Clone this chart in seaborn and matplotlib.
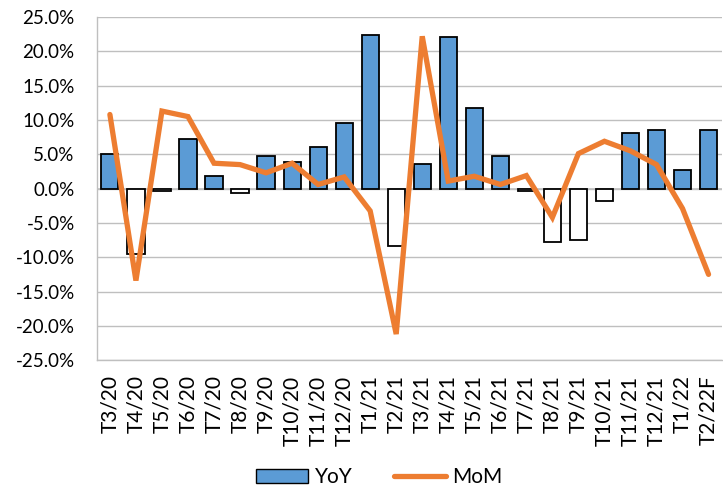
import numpy as np
import pandas as pd
import matplotlib.pyplot as plt
import seaborn as sns
from matplotlib.patches import Patch
from matplotlib.lines import Line2D

# -------------------- DATA --------------------
months = ['T3/20', 'T4/20', 'T5/20', 'T6/20', 'T7/20', 'T8/20', 'T9/20', 'T10/20',
          'T11/20', 'T12/20', 'T1/21', 'T2/21', 'T3/21', 'T4/21', 'T5/21', 'T6/21',
          'T7/21', 'T8/21', 'T9/21', 'T10/21', 'T11/21', 'T12/21', 'T1/22', 'T2/22F']
yoy = [5.0, -9.5, -0.35, 7.3, 1.8, -0.6, 4.8, 3.9, 6.0, 9.5, 22.4, -8.3,
       3.6, 22.1, 11.8, 4.8, -0.3, -7.8, -7.5, -1.8, 8.1, 8.6, 2.7, 8.5]
mom = [10.8, -13.4, 11.3, 10.5, 3.7, 3.5, 2.3, 3.7, 0.6, 1.7, -3.25, -21.2,
       22.2, 1.1, 1.8, 0.6, 1.9, -4.2, 5.1, 6.9, 5.5, 3.5, -2.9, -12.5]

BLUE = '#5B9BD5'
ORANGE = '#ED7D31'
GRID = '#BFBFBF'

df = pd.DataFrame({'month': months, 'yoy': yoy, 'mom': mom})

sns.set_style('white')
plt.rcParams['font.family'] = ['Lato', 'DejaVu Sans']
plt.rcParams['text.color'] = 'black'

fig = plt.figure(figsize=(7.23, 4.88), dpi=100)
ax = fig.add_axes([0.134, 0.262, 0.864, 0.703])

# bars: blue when positive, white when negative
bar_colors = [BLUE if v >= 0 else 'white' for v in yoy]
sns.barplot(data=df, x='month', y='yoy', hue='month', palette=bar_colors,
            saturation=1, legend=False, width=0.66, edgecolor='black',
            linewidth=1.3, ax=ax, zorder=3)

sns.lineplot(x=np.arange(len(months)), y=df['mom'], color=ORANGE,
             linewidth=3.8, ax=ax, zorder=4)
for ln in ax.lines:
    ln.set_solid_capstyle('round')
    ln.set_solid_joinstyle('miter')

ax.set_ylim(-25, 25)
ax.set_xlim(-0.5, len(months) - 0.5)
ax.set_yticks(np.arange(-25, 26, 5))
ax.set_yticklabels([f'{v:.1f}%' for v in np.arange(-25, 26, 5)], fontsize=13.5)
ax.set_xticks(range(len(months)))
ax.set_xticklabels(months, rotation=90, fontsize=15, va='top', ha='center')
ax.tick_params(axis='y', length=0, pad=16, labelcolor='black')
ax.tick_params(axis='x', length=0, pad=11, labelcolor='black')
ax.set_xlabel('')
ax.set_ylabel('')

ax.yaxis.grid(True, color=GRID, linewidth=1.0, zorder=0)
ax.set_axisbelow(True)
ax.axhline(0, color=GRID, linewidth=1.2, zorder=2)
for side in ['top', 'right']:
    ax.spines[side].set_visible(False)
for side in ['left', 'bottom']:
    ax.spines[side].set_color(GRID)
    ax.spines[side].set_linewidth(1.0)

handles = [Patch(facecolor=BLUE, edgecolor='black', linewidth=1.0),
           Line2D([0], [0], color=ORANGE, linewidth=3.8, solid_capstyle='round')]
fig.legend(handles, ['YoY', 'MoM'], loc='center', bbox_to_anchor=(0.525, 0.022),
           ncol=2, frameon=False, fontsize=15, handlelength=2.5,
           handleheight=0.7, columnspacing=2.0, handletextpad=0.3)

fig.savefig('out.png', dpi=100)
